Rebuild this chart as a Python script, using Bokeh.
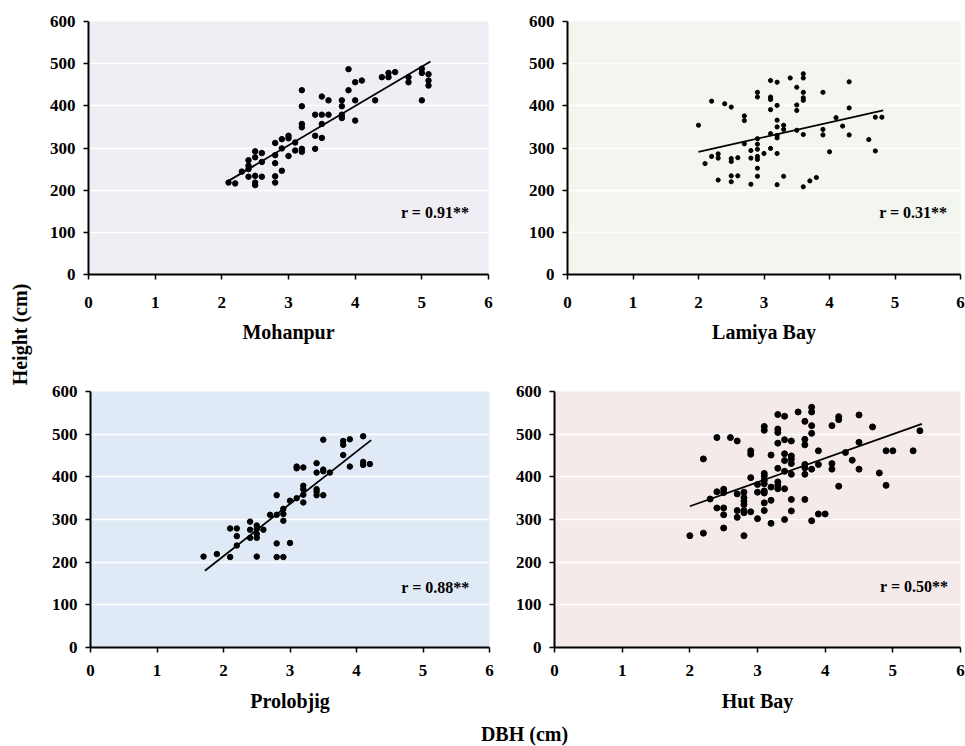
import math
from bokeh.plotting import figure
from bokeh.layouts import row, column
from bokeh.models import Range1d, FixedTicker
from bokeh.core.properties import value
from bokeh.embed import file_html
from bokeh.resources import INLINE

FONT = "Times New Roman"

# ---------------- data ----------------
X_TICKS = [0, 1, 2, 3, 4, 5, 6]
Y_TICKS = [0, 100, 200, 300, 400, 500, 600]
SITES = ["Mohanpur", "Lamiya Bay", "Prolobjig", "Hut Bay"]
R_LABELS = ["r = 0.91**", "r = 0.31**", "r = 0.88**", "r = 0.50**"]
X_LABEL = "DBH (cm)"
Y_LABEL = "Height (cm)"

# Mohanpur
dbh_mohanpur = [2.1, 2.2, 2.3, 2.4, 2.4, 2.4, 2.4, 2.5, 2.5, 2.5, 2.5, 2.5,
                2.6, 2.6, 2.6, 2.8, 2.8, 2.8, 2.8, 2.8, 2.9, 2.9, 2.9,
                3.0, 3.0, 3.0, 3.1, 3.1, 3.2, 3.2, 3.2, 3.2, 3.2, 3.2,
                3.4, 3.4, 3.4, 3.5, 3.5, 3.5, 3.5, 3.6, 3.6,
                3.8, 3.8, 3.8, 3.8, 3.9, 3.9, 4.0, 4.0, 4.0, 4.1, 4.3, 4.4,
                4.5, 4.5, 4.6, 4.8, 4.8, 5.0, 5.0, 5.0, 5.1, 5.1, 5.1]
ht_mohanpur = [218, 216, 244, 271, 258, 250, 232, 292, 278, 234, 218, 212,
               288, 267, 232, 312, 283, 264, 233, 218, 321, 299, 246,
               329, 323, 281, 313, 294, 437, 399, 357, 349, 298, 291,
               329, 298, 379, 422, 379, 357, 324, 413, 379,
               413, 399, 379, 371, 437, 487, 456, 413, 365, 460, 413, 468,
               478, 468, 480, 468, 456, 488, 478, 413, 475, 460, 448]
fit_x_mohanpur = [2.1, 5.13]
fit_y_mohanpur = [222, 505]

# Lamiya Bay
dbh_lamiya = [2.0, 2.1, 2.2, 2.2, 2.3, 2.3, 2.3, 2.4,
              2.5, 2.5, 2.5, 2.5, 2.5, 2.6, 2.6, 2.7, 2.7, 2.7,
              2.8, 2.8, 2.8, 2.9, 2.9, 2.9, 2.9, 2.9, 2.9, 2.9, 2.9, 2.9,
              3.0, 3.1, 3.1, 3.1, 3.1, 3.1, 3.1,
              3.2, 3.2, 3.2, 3.2, 3.2, 3.2, 3.2, 3.2, 3.3, 3.3, 3.3, 3.4,
              3.5, 3.5, 3.5, 3.5, 3.6, 3.6, 3.6, 3.6, 3.6, 3.6, 3.6,
              3.7, 3.8, 3.9, 3.9, 3.9, 4.0, 4.1, 4.2, 4.3, 4.3, 4.3,
              4.6, 4.7, 4.7, 4.8]
ht_lamiya = [354, 263, 411, 280, 286, 276, 224, 405,
             397, 275, 268, 234, 220, 277, 234, 376, 365, 310,
             294, 276, 214, 432, 421, 322, 309, 297, 280, 273, 252, 233,
             287, 460, 421, 415, 391, 334, 299,
             456, 401, 366, 350, 330, 324, 287, 213, 354, 344, 233, 466,
             444, 402, 389, 342, 476, 466, 432, 419, 413, 332, 208,
             222, 230, 432, 344, 331, 291, 372, 352, 457, 395, 331,
             320, 373, 293, 373]
fit_x_lamiya = [2.0, 4.82]
fit_y_lamiya = [291, 389]

# Prolobjig
dbh_prolobjig = [1.7, 1.9, 2.1, 2.1, 2.2, 2.2, 2.2, 2.4, 2.4, 2.4,
                 2.5, 2.5, 2.5, 2.5, 2.5, 2.6, 2.7, 2.8, 2.8, 2.8, 2.8,
                 2.9, 2.9, 2.9, 2.9, 3.0, 3.0, 3.1, 3.1, 3.1,
                 3.2, 3.2, 3.2, 3.2, 3.2, 3.4, 3.4, 3.4, 3.4, 3.4,
                 3.5, 3.5, 3.5, 3.5, 3.6, 3.8, 3.8, 3.8, 3.9, 3.9,
                 4.1, 4.1, 4.1, 4.2]
ht_prolobjig = [213, 219, 212, 279, 279, 261, 239, 295, 276, 257,
                286, 278, 266, 257, 213, 276, 311, 311, 357, 244, 212,
                325, 313, 297, 212, 344, 245, 350, 424, 420,
                422, 379, 371, 358, 340, 432, 410, 371, 365, 357,
                487, 417, 413, 357, 410, 484, 475, 451, 488, 424,
                495, 435, 428, 430]
fit_x_prolobjig = [1.72, 4.22]
fit_y_prolobjig = [180, 486]

# Hut Bay
dbh_hutbay = [2.0, 2.2, 2.2, 2.3, 2.4, 2.4, 2.4,
              2.5, 2.5, 2.5, 2.5, 2.5, 2.6, 2.7, 2.7, 2.7, 2.7,
              2.8, 2.8, 2.8, 2.8, 2.8, 2.8, 2.8, 2.9, 2.9, 2.9, 2.9,
              3.0, 3.0, 3.0, 3.1, 3.1, 3.1, 3.1, 3.1, 3.1, 3.1, 3.1, 3.1, 3.1,
              3.2, 3.2, 3.2, 3.2, 3.3, 3.3, 3.3, 3.3, 3.3, 3.3, 3.3, 3.3,
              3.4, 3.4, 3.4, 3.4, 3.4, 3.4, 3.4,
              3.5, 3.5, 3.5, 3.5, 3.5, 3.5, 3.5, 3.6,
              3.7, 3.7, 3.7, 3.7, 3.7, 3.7, 3.7,
              3.8, 3.8, 3.8, 3.8, 3.8, 3.8, 3.9, 3.9, 3.9, 4.0,
              4.1, 4.1, 4.1, 4.2, 4.2, 4.2, 4.3, 4.4, 4.5, 4.5, 4.5,
              4.7, 4.8, 4.9, 4.9, 5.0, 5.3, 5.4]
ht_hutbay = [262, 442, 268, 348, 492, 365, 327,
             371, 363, 327, 311, 280, 492, 484, 360, 321, 305,
             364, 351, 343, 335, 321, 316, 262, 461, 453, 398, 318,
             382, 364, 302, 518, 509, 408, 402, 392, 384, 367, 362, 339, 321,
             451, 376, 345, 291, 546, 512, 504, 479, 420, 388, 380, 372,
             542, 487, 454, 438, 413, 372, 300,
             484, 449, 441, 431, 406, 347, 320, 552,
             530, 488, 475, 429, 421, 406, 347,
             563, 552, 520, 502, 418, 297, 461, 429, 313, 313,
             520, 431, 418, 541, 534, 378, 457, 439, 545, 481, 418,
             517, 409, 461, 380, 461, 461, 508]
fit_x_hutbay = [2.0, 5.43]
fit_y_hutbay = [331, 524]


def style_axes(p, x_standoff, label_standoff):
    for ax in (p.xaxis[0], p.yaxis[0]):
        ax.axis_line_width = 2
        ax.axis_line_color = "black"
        ax.major_tick_line_width = 1.5
        ax.major_tick_line_color = "black"
        ax.major_tick_out = 5
        ax.major_tick_in = 0
        ax.minor_tick_line_color = None
        ax.major_label_text_font = FONT
        ax.major_label_text_font_style = "bold"
        ax.major_label_text_font_size = "17px"
        ax.major_label_text_color = "black"
        ax.axis_label_text_font = FONT
        ax.axis_label_text_font_style = "bold"
        ax.axis_label_text_font_size = "20px"
        ax.axis_label_text_color = "black"
    p.xaxis.ticker = FixedTicker(ticks=X_TICKS)
    p.yaxis.ticker = FixedTicker(ticks=Y_TICKS)
    p.xaxis.major_label_standoff = x_standoff
    p.yaxis.major_label_standoff = 8
    p.xaxis.axis_label_standoff = label_standoff
    p.xgrid.grid_line_color = None
    p.ygrid.grid_line_color = "white"
    p.ygrid.grid_line_width = 1.5


def panel(xs, ys, fx, fy, name, rtext, bg, size, w, h, bl, br, bt, bb, rx, ry,
          x_standoff, label_standoff):
    p = figure(width=w, height=h, x_range=Range1d(0, 6), y_range=Range1d(0, 600),
               output_backend="svg", toolbar_location=None,
               min_border_left=bl, min_border_right=br,
               min_border_top=bt, min_border_bottom=bb,
               background_fill_color=bg, border_fill_color="white",
               outline_line_color=None)
    style_axes(p, x_standoff, label_standoff)
    p.xaxis.axis_label = name
    p.scatter(xs, ys, size=size, color="black")
    p.line(fx, fy, line_color="black", line_width=1.8)
    p.text(x=[rx], y=[ry], text=[rtext], text_font=value(FONT),
           text_font_style="bold", text_font_size="16px",
           text_align="right", text_baseline="middle", text_color="black")
    return p


p1 = panel(dbh_mohanpur, ht_mohanpur, fit_x_mohanpur, fit_y_mohanpur,
           SITES[0], R_LABELS[0], "#F0EEF4", 5.5,
           479, 360, 50, 29, 21, 86, 5.71, 148, 17, 10)
p2 = panel(dbh_lamiya, ht_lamiya, fit_x_lamiya, fit_y_lamiya,
           SITES[1], R_LABELS[1], "#F3F6EE", 4.2,
           448, 360, 50, 5, 21, 86, 5.80, 148, 17, 10)
p3 = panel(dbh_prolobjig, ht_prolobjig, fit_x_prolobjig, fit_y_prolobjig,
           SITES[2], R_LABELS[2], "#E0EAF6", 5.5,
           466, 360, 52, 15, 31, 73, 5.70, 140, 12, 11)
p4 = panel(dbh_hutbay, ht_hutbay, fit_x_hutbay, fit_y_hutbay,
           SITES[3], R_LABELS[3], "#F5EAEA", 6.0,
           461, 360, 50, 5, 31, 73, 5.82, 144, 12, 11)


def label_fig(w, h):
    f = figure(width=w, height=h, x_range=Range1d(0, w), y_range=Range1d(0, h),
               output_backend="svg", toolbar_location=None, min_border=0,
               x_axis_location=None, y_axis_location=None,
               outline_line_color=None, border_fill_color="white",
               background_fill_color="white")
    f.grid.visible = False
    return f


ylab = label_fig(38, 746)
ylab.text(x=[19], y=[412], text=[Y_LABEL], angle=math.pi / 2,
          text_font=value(FONT), text_font_style="bold", text_font_size="20px",
          text_align="center", text_baseline="middle", text_color="black")

xlab = label_fig(927, 26)
xlab.text(x=[486], y=[13], text=[X_LABEL],
          text_font=value(FONT), text_font_style="bold", text_font_size="20px",
          text_align="center", text_baseline="middle", text_color="black")

layout = row(ylab, column(row(p1, p2), row(p3, p4), xlab))

open("out.html", "w").write(file_html(layout, INLINE))
